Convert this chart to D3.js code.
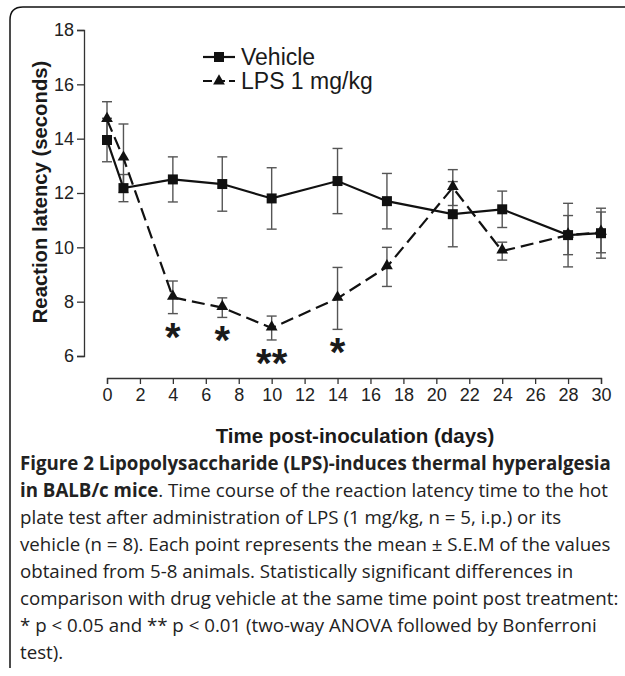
<!DOCTYPE html>
<html>
<head>
<meta charset="utf-8">
<script src="https://cdn.jsdelivr.net/npm/d3@7"></script>
<style>
  body { margin: 0; background: #fff; }
  svg { display: block; }
</style>
</head>
<body>
<svg id="chart" width="625" height="676"></svg>
<script>
// data
var days = [0, 1, 4, 7, 10, 14, 17, 21, 24, 28, 30];
var vehicleMean = [13.95, 12.18, 12.5, 12.33, 11.8, 12.44, 11.7, 11.22, 11.4, 10.45, 10.52];
var vehicleSem = [0.8, 0.5, 0.83, 1.0, 1.13, 1.2, 1.02, 1.2, 0.67, 1.17, 0.92];
var lpsMean = [14.7, 13.28, 8.16, 7.78, 7.03, 8.12, 9.28, 12.2, 9.86, 10.45, 10.55];
var lpsSem = [0.66, 1.26, 0.6, 0.36, 0.44, 1.14, 0.72, 0.66, 0.33, 0.72, 0.75];
var stars = [null, null, "*", "*", "**", "*", null, null, null, null, null];
var xTicks = d3.range(0, 31, 2);
var yTicks = [6, 8, 10, 12, 14, 16, 18];
var legendNames = ["Vehicle", "LPS 1 mg/kg"];
var captionLines = [
  [["Figure 2 Lipopolysaccharide (LPS)-induces thermal hyperalgesia", true]],
  [["in BALB/c mice", true], [". Time course of the reaction latency time to the hot", false]],
  [["plate test after administration of LPS (1 mg/kg, n = 5, i.p.) or its", false]],
  [["vehicle (n = 8). Each point represents the mean \u00b1 S.E.M of the values", false]],
  [["obtained from 5-8 animals. Statistically significant differences in", false]],
  [["comparison with drug vehicle at the same time point post treatment:", false]],
  [["* p < 0.05 and ** p < 0.01 (two-way ANOVA followed by Bonferroni", false]],
  [["test).", false]]
];

var svg = d3.select('#chart');
var font = "'Liberation Sans', Arial, sans-serif";

// frame around the figure
svg.append('path')
    .attr('d', 'M10,668 L10,20 Q10,7 23,7 L625,7')
    .attr('fill', 'none')
    .attr('stroke', '#111')
    .attr('stroke-width', 1.5);

var xScale = d3.scaleLinear().domain([0, 30]).range([107, 601]);
var yScale = d3.scaleLinear().domain([6, 18]).range([356, 30]);

// y axis
var yAxis = svg.append('g')
    .attr('transform', 'translate(84,0)')
    .call(d3.axisLeft(yScale).tickValues(yTicks).tickSize(7).tickPadding(3));
yAxis.select('.domain').attr('stroke', '#333').attr('stroke-width', 1.3);
yAxis.selectAll('.tick line').attr('stroke', '#333').attr('stroke-width', 1.3);
yAxis.selectAll('.tick text')
    .style('font-family', font)
    .style('font-size', '18px')
    .attr('fill', '#222');

// x axis
var xAxis = svg.append('g')
    .attr('transform', 'translate(0,378)')
    .call(d3.axisBottom(xScale).tickValues(xTicks).tickSize(6).tickPadding(4).tickSizeOuter(6));
xAxis.select('.domain').attr('stroke', '#333').attr('stroke-width', 1.3);
xAxis.selectAll('.tick line').attr('stroke', '#333').attr('stroke-width', 1.3);
xAxis.selectAll('.tick text')
    .style('font-family', font)
    .style('font-size', '18px')
    .attr('fill', '#222');

// axis titles
svg.append('text')
    .attr('x', 355).attr('y', 443)
    .attr('text-anchor', 'middle')
    .style('font-family', font)
    .style('font-size', '20.5px')
    .style('font-weight', 'bold')
    .attr('fill', '#1a1a1a')
    .text('Time post-inoculation (days)');
svg.append('text')
    .attr('transform', 'translate(47,192) rotate(-90)')
    .attr('text-anchor', 'middle')
    .style('font-family', font)
    .style('font-size', '20.3px')
    .style('font-weight', 'bold')
    .attr('fill', '#1a1a1a')
    .text('Reaction latency (seconds)');

var vehicle = days.map((d, i) => ({ day: d, mean: vehicleMean[i], sem: vehicleSem[i] }));
var lps = days.map((d, i) => ({ day: d, mean: lpsMean[i], sem: lpsSem[i], star: stars[i] }));

// error bars
function errorBars(data) {
  var g = svg.append('g').attr('stroke', '#555').attr('stroke-width', 1.4);
  data.forEach(d => {
    var x = xScale(d.day);
    var y1 = yScale(d.mean + d.sem), y2 = yScale(d.mean - d.sem);
    g.append('line').attr('x1', x).attr('x2', x).attr('y1', y1).attr('y2', y2);
    g.append('line').attr('x1', x - 5).attr('x2', x + 5).attr('y1', y1).attr('y2', y1);
    g.append('line').attr('x1', x - 5).attr('x2', x + 5).attr('y1', y2).attr('y2', y2);
  });
}
errorBars(vehicle);
errorBars(lps);

var line = d3.line().x(d => xScale(d.day)).y(d => yScale(d.mean));

svg.append('path')
    .datum(vehicle)
    .attr('fill', 'none')
    .attr('stroke', '#111')
    .attr('stroke-width', 2.2)
    .attr('d', line);
svg.append('path')
    .datum(lps)
    .attr('fill', 'none')
    .attr('stroke', '#111')
    .attr('stroke-width', 2.2)
    .attr('stroke-dasharray', '13,6')
    .attr('d', line);

var square = d3.symbol().type(d3.symbolSquare).size(100);
var triangle = d3.symbol().type(d3.symbolTriangle).size(60);

svg.selectAll('.sq')
    .data(vehicle)
    .enter().append('path')
    .attr('class', 'sq')
    .attr('d', square)
    .attr('transform', d => `translate(${xScale(d.day)},${yScale(d.mean)})`)
    .attr('fill', '#111');
svg.selectAll('.tri')
    .data(lps)
    .enter().append('path')
    .attr('class', 'tri')
    .attr('d', triangle)
    .attr('transform', d => `translate(${xScale(d.day)},${yScale(d.mean) - 1})`)
    .attr('fill', '#111');

// significance stars
svg.selectAll('.star')
    .data(lps.filter(d => d.star))
    .enter().append('text')
    .attr('class', 'star')
    .attr('x', d => xScale(d.day))
    .attr('y', d => yScale(d.mean - d.sem) + 37)
    .attr('text-anchor', 'middle')
    .style('font-family', font)
    .style('font-size', '40px')
    .style('font-weight', 'bold')
    .attr('fill', '#1a1a1a')
    .text(d => d.star);

// legend
var legend = svg.append('g').attr('transform', 'translate(203,57)');
legendNames.forEach((name, i) => {
  var row = legend.append('g').attr('transform', `translate(0,${i * 24})`);
  row.append('line')
      .attr('x1', 0).attr('x2', 32).attr('y1', 0).attr('y2', 0)
      .attr('stroke', '#111').attr('stroke-width', 2.2)
      .attr('stroke-dasharray', i === 0 ? null : '9,4');
  row.append('path')
      .attr('d', i === 0 ? square() : triangle())
      .attr('transform', 'translate(16,0)')
      .attr('fill', '#111');
  row.append('text')
      .attr('x', 38).attr('y', 8)
      .style('font-family', font)
      .style('font-size', '23px')
      .attr('fill', '#1a1a1a')
      .text(name);
});

// caption
var caption = svg.append('g');
captionLines.forEach((parts, i) => {
  var t = caption.append('text')
      .attr('x', 20)
      .attr('y', 470 + i * 27)
      .style('font-family', "'Open Sans', sans-serif")
      .style('font-size', '18.7px')
      .attr('fill', '#222');
  parts.forEach(p => {
    t.append('tspan')
        .style('font-weight', p[1] ? 'bold' : 'normal')
        .text(p[0]);
  });
});
</script>
</body>
</html>
